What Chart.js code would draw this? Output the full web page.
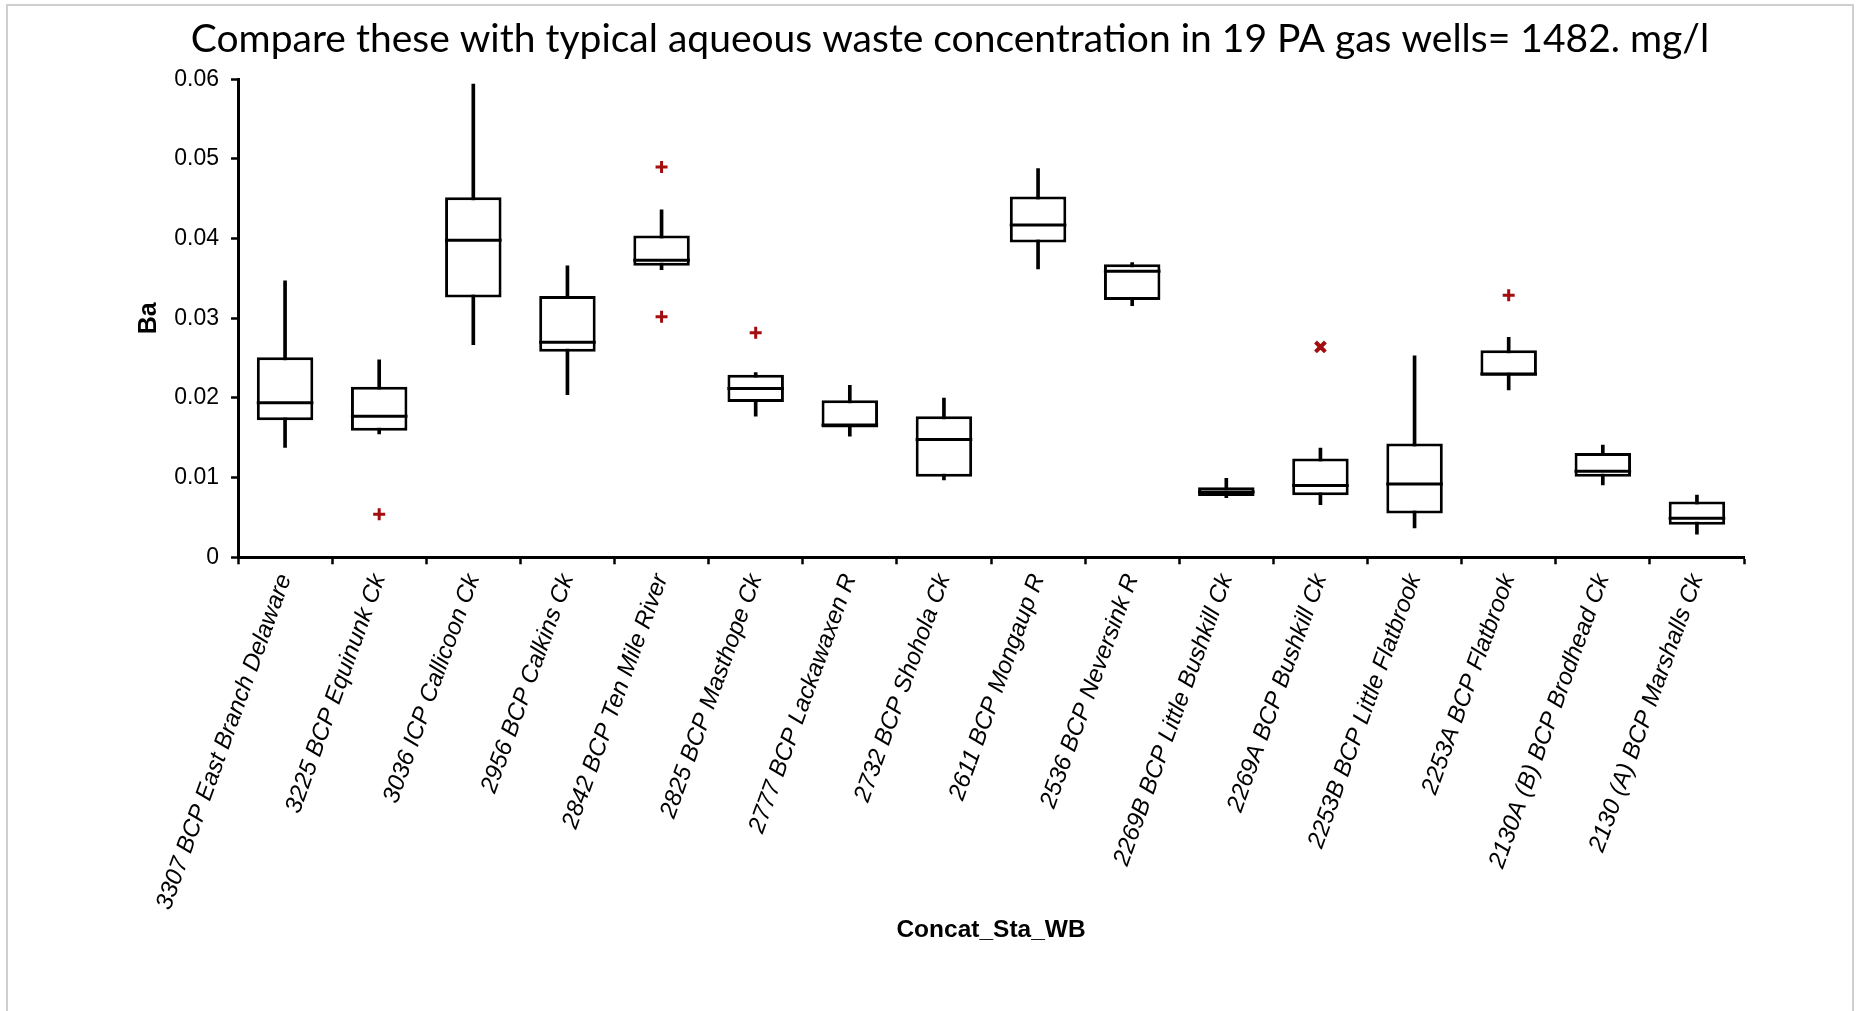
<!DOCTYPE html>
<html lang="en">
<head>
  <meta charset="UTF-8" />
  <title>Ba box plot</title>
  <script src="https://cdn.jsdelivr.net/npm/chart.js"></script>
  <style>
    html, body {
      margin: 0;
      padding: 0;
      background: #fff;
      overflow: hidden;
    }
    .frame {
      position: absolute;
      left: 6px;
      top: 4px;
      width: 1844px;
      height: 1020px;
      border-top: 2px solid #cfcfcf;
      border-left: 2px solid #cfcfcf;
      border-right: 2px solid #cfcfcf;
    }
    .wrap {
      position: absolute;
      left: 0;
      top: 0;
      width: 1874px;
      height: 1011px;
    }
  </style>
</head>
<body>
  <div class="frame"></div>
  <div class="wrap">
    <canvas id="boxChart"></canvas>
  </div>

  <script>
    const stations = [
      '3307 BCP East Branch Delaware', '3225 BCP Equinunk Ck', '3036 ICP Callicoon Ck',
      '2956 BCP Calkins Ck', '2842 BCP Ten Mile River', '2825 BCP Masthope Ck',
      '2777 BCP Lackawaxen R', '2732 BCP Shohola Ck', '2611 BCP Mongaup R',
      '2536 BCP Neversink R', '2269B BCP Little Bushkill Ck', '2269A BCP Bushkill Ck',
      '2253B BCP Little Flatbrook', '2253A BCP Flatbrook', '2130A (B) BCP Brodhead Ck',
      '2130 (A) BCP Marshalls Ck'
    ];

    // box plot values (Ba, mg/l)
    const whiskerLow  = [0.0138, 0.0155, 0.0267, 0.0204, 0.0361, 0.0177, 0.0152, 0.0097, 0.0362, 0.0316, 0.0075, 0.0066, 0.0037, 0.0210, 0.0091, 0.0029];
    const q1          = [0.0172, 0.0159, 0.0326, 0.0258, 0.0366, 0.0195, 0.0163, 0.0101, 0.0395, 0.0323, 0.0077, 0.0078, 0.0055, 0.0228, 0.0101, 0.0041];
    const medians     = [0.0194, 0.0177, 0.0398, 0.0270, 0.0373, 0.0212, 0.0166, 0.0148, 0.0417, 0.0359, 0.0082, 0.0090, 0.0092, 0.0230, 0.0108, 0.0049];
    const q3          = [0.0251, 0.0214, 0.0452, 0.0328, 0.0404, 0.0229, 0.0197, 0.0177, 0.0453, 0.0368, 0.0088, 0.0124, 0.0143, 0.0260, 0.0131, 0.0070];
    const whiskerHigh = [0.0347, 0.0248, 0.0594, 0.0366, 0.0436, 0.0232, 0.0216, 0.0200, 0.0488, 0.0370, 0.0099, 0.0137, 0.0253, 0.0276, 0.0141, 0.0078];

    // outliers: station index + value
    const outlierIdx = [1, 4, 4, 5, 13];
    const outlierVal = [0.0054, 0.0490, 0.0302, 0.0282, 0.0329];
    const extremeIdx = [11];
    const extremeVal = [0.0264];

    const yTicks = [0, 0.01, 0.02, 0.03, 0.04, 0.05, 0.06];

    const titleText = 'Compare these with typical aqueous waste concentration in 19 PA gas wells= 1482. mg/l';

    const W = 1874, H = 1011;
    const plotLeft = 238, plotRight = 1744, plotTop = 79.3, plotBottom = 557.3;
    const outlierColor = '#a30d0d';

    const canvas = document.getElementById('boxChart');
    canvas.width = W;
    canvas.height = H;

    const sansFont = "'Liberation Sans', Arial, sans-serif";

    // slide title, centred on the slide rather than on the plot
    const slideTitle = {
      id: 'slideTitle',
      afterDraw(chart) {
        const ctx = chart.ctx;
        ctx.save();
        ctx.font = "39px Lato, 'Open Sans', sans-serif";
        ctx.fillStyle = '#000';
        ctx.textAlign = 'center';
        ctx.textBaseline = 'middle';
        ctx.fillText(titleText, 950, 39);
        ctx.restore();
      }
    };

    new Chart(canvas.getContext('2d'), {
      type: 'bar',
      data: {
        labels: stations,
        datasets: [
          {
            type: 'line',
            label: 'median',
            data: medians,
            showLine: false,
            pointStyle: 'line',
            pointRadius: 28.3,
            pointHoverRadius: 28.3,
            pointBorderWidth: 3,
            pointBorderColor: '#000',
            order: 0
          },
          {
            type: 'line',
            label: 'outliers',
            data: outlierIdx.map((c, i) => ({ x: stations[c], y: outlierVal[i] })),
            showLine: false,
            pointStyle: 'cross',
            pointRadius: 6,
            pointBorderWidth: 3,
            pointBorderColor: outlierColor,
            order: 0
          },
          {
            type: 'line',
            label: 'extreme',
            data: extremeIdx.map((c, i) => ({ x: stations[c], y: extremeVal[i] })),
            showLine: false,
            pointStyle: 'crossRot',
            pointRadius: 7,
            pointBorderWidth: 4,
            pointBorderColor: outlierColor,
            order: 0
          },
          {
            label: 'box',
            data: q1.map((v, i) => [v, q3[i]]),
            backgroundColor: '#fff',
            borderColor: '#000',
            borderWidth: 3,
            borderSkipped: false,
            grouped: false,
            categoryPercentage: 1,
            barPercentage: 0.6,
            order: 1
          },
          {
            label: 'whisker',
            data: whiskerLow.map((v, i) => [v, whiskerHigh[i]]),
            backgroundColor: '#000',
            borderWidth: 0,
            grouped: false,
            barThickness: 3,
            order: 2
          }
        ]
      },
      options: {
        responsive: false,
        animation: false,
        layout: { padding: { left: 0, right: W - plotRight, top: plotTop, bottom: 0 } },
        plugins: {
          legend: { display: false },
          tooltip: { enabled: false },
          title: { display: false }
        },
        scales: {
          x: {
            offset: true,
            grid: {
              offset: true,
              drawOnChartArea: false,
              drawTicks: true,
              tickLength: 7,
              tickColor: '#000',
              tickWidth: 2.5
            },
            border: { display: true, color: '#000', width: 3 },
            ticks: {
              autoSkip: false,
              minRotation: 70,
              maxRotation: 70,
              padding: 6,
              color: '#000',
              font: { family: sansFont, size: 24, style: 'italic' }
            },
            title: {
              display: true,
              text: 'Concat_Sta_WB',
              color: '#000',
              font: { family: sansFont, size: 24.5, weight: 'bold' },
              padding: { top: 0, bottom: 66 }
            },
            afterFit: scale => { scale.height = H - plotBottom; }
          },
          y: {
            min: 0,
            max: 0.06,
            grid: {
              drawOnChartArea: false,
              drawTicks: true,
              tickLength: 7,
              tickColor: '#000',
              tickWidth: 2.5
            },
            border: { display: true, color: '#000', width: 3 },
            afterBuildTicks: scale => { scale.ticks = yTicks.map(v => ({ value: v })); },
            ticks: {
              padding: 12,
              color: '#000',
              font: { family: sansFont, size: 23 },
              callback: v => String(v)
            },
            title: {
              display: true,
              text: 'Ba',
              color: '#000',
              font: { family: sansFont, size: 25, weight: 'bold' },
              padding: { top: 134, bottom: 0 }
            },
            afterFit: scale => { scale.width = plotLeft; }
          }
        }
      },
      plugins: [slideTitle]
    });
  </script>
</body>
</html>
